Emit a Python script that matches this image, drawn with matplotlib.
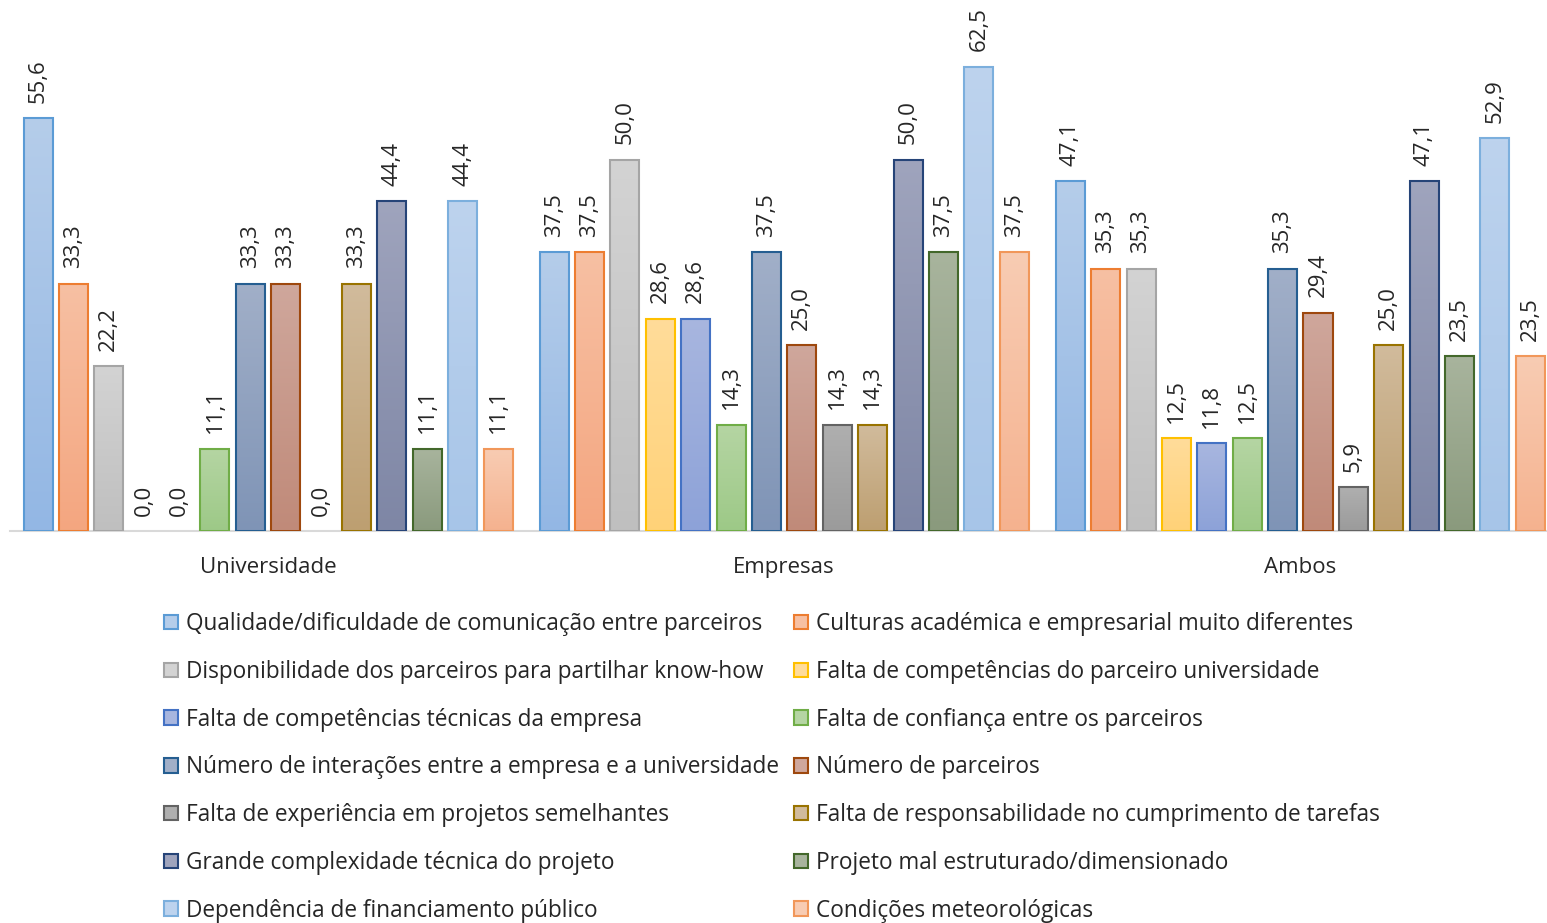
import numpy as np
import matplotlib
matplotlib.use("Agg")
import matplotlib.pyplot as plt
from matplotlib.colors import LinearSegmentedColormap
from matplotlib.patches import Patch

plt.rcParams['font.family'] = ['Open Sans', 'DejaVu Sans']

# ─── Data ────────────────────────────────────────────────────────────────────

groups = ["Universidade", "Empresas", "Ambos"]

series = [
    "Qualidade/dificuldade de comunicação entre parceiros",
    "Culturas académica e empresarial muito diferentes",
    "Disponibilidade dos parceiros para partilhar know-how",
    "Falta de competências do parceiro universidade",
    "Falta de competências técnicas da empresa",
    "Falta de confiança entre os parceiros",
    "Número de interações entre a empresa e a universidade",
    "Número de parceiros",
    "Falta de experiência em projetos semelhantes",
    "Falta de responsabilidade no cumprimento de tarefas",
    "Grande complexidade técnica do projeto",
    "Projeto mal estruturado/dimensionado",
    "Dependência de financiamento público",
    "Condições meteorológicas",
]

universidade = [55.6, 33.3, 22.2, 0.0, 0.0, 11.1, 33.3, 33.3, 0.0, 33.3, 44.4, 11.1, 44.4, 11.1]
empresas = [37.5, 37.5, 50.0, 28.6, 28.6, 14.3, 37.5, 25.0, 14.3, 14.3, 50.0, 37.5, 62.5, 37.5]
ambos = [47.1, 35.3, 35.3, 12.5, 11.8, 12.5, 35.3, 29.4, 5.9, 25.0, 47.1, 23.5, 52.9, 23.5]

# (top of gradient, bottom of gradient, outline)
palette = [
    ("#B5CDEA", "#93B7E4", "#5B9BD5"),
    ("#F7C0A3", "#F4A680", "#ED7D31"),
    ("#D3D3D3", "#BFBFBF", "#A5A5A5"),
    ("#FFDC9A", "#FFD278", "#FFC000"),
    ("#A8B6DF", "#8DA2D8", "#4472C4"),
    ("#B5D5A3", "#9DC987", "#70AD47"),
    ("#A1AFC8", "#7F94B6", "#255E91"),
    ("#CFA79C", "#C08A79", "#9E480E"),
    ("#AFAFAF", "#9B9B9B", "#636363"),
    ("#D1BB9C", "#BD9F71", "#997300"),
    ("#9FA4BD", "#7E86A5", "#264478"),
    ("#A8B49D", "#8A9A7D", "#43682B"),
    ("#BDD3EE", "#A7C5E8", "#7CAFDD"),
    ("#F8CCB3", "#F5B28F", "#F1975A"),
]

values = np.array([universidade, empresas, ambos])  # (groups, series)

# ─── Figure ──────────────────────────────────────────────────────────────────

fig = plt.figure(figsize=(15.47, 9.23), dpi=100)
ax = fig.add_axes([10 / 1547, 392 / 923, 1 - 10 / 1547, 520 / 923])

n = len(series)
slot = 0.96 / n
width = slot * 0.82
x = np.arange(len(groups))
grad = np.linspace(0, 1, 128).reshape(-1, 1)
text_color = '#262626'

for i in range(n):
    top, bottom, edge = palette[i]
    offs = x + (i - (n - 1) / 2) * slot
    vals = values[:, i]
    cmap = LinearSegmentedColormap.from_list(f"s{i}", [bottom, top])
    for xc, v in zip(offs, vals):
        if v > 0:
            ax.imshow(grad, extent=[xc - width / 2, xc + width / 2, 0, v],
                      origin='lower', cmap=cmap, aspect='auto', zorder=2,
                      interpolation='bilinear')
    ax.bar(offs, vals, width=width, facecolor='none', edgecolor=edge,
           linewidth=[1.5 if v > 0 else 0 for v in vals], zorder=3)
    for xc, v in zip(offs, vals):
        ax.annotate(f"{v:.1f}".replace(".", ","), (xc, v),
                    xytext=(0, 11), textcoords='offset points',
                    rotation=90, ha='center', va='bottom',
                    fontsize=16, color=text_color)

ax.set_xlim(-0.5, 2.478)
ax.set_ylim(0, 70)
ax.set_xticks(x)
ax.set_xticklabels(groups, fontsize=16, color=text_color)
ax.tick_params(axis='x', length=0, pad=19)
ax.set_yticks([])
for side in ('top', 'right', 'left'):
    ax.spines[side].set_visible(False)
ax.spines['bottom'].set_color('#D9D9D9')
ax.spines['bottom'].set_linewidth(1.5)
ax.set_facecolor('none')

# legend laid out row by row in two columns
handles = [Patch(facecolor=palette[i][0], edgecolor=palette[i][2], linewidth=1.5)
           for i in range(n)]
order = list(range(0, n, 2)) + list(range(1, n, 2))
leg = fig.legend([handles[i] for i in order], [series[i] for i in order],
                 ncol=2, loc='upper left', bbox_to_anchor=(164 / 1547, 1 - 612 / 923),
                 frameon=False, fontsize=16.3, labelcolor=text_color,
                 handlelength=0.6, handleheight=0.6, handletextpad=0.35,
                 columnspacing=0.7, labelspacing=1.05, borderpad=0,
                 borderaxespad=0)

fig.savefig("out.png", dpi=100)
